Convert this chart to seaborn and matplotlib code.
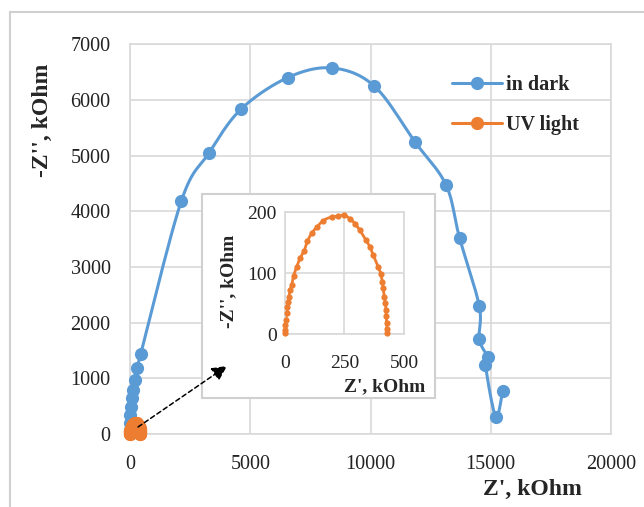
import matplotlib
matplotlib.use("Agg")
import matplotlib.pyplot as plt
import numpy as np
import pandas as pd
import seaborn as sns
from matplotlib.lines import Line2D
from matplotlib.patches import ConnectionPatch, Rectangle

sns.set_style("whitegrid")
plt.rcParams["font.family"] = ["Liberation Serif", "DejaVu Serif"]

BLUE = "#5B9BD5"
ORANGE = "#ED7D31"
GRID = "#D9D9D9"

# in dark, Z' and -Z'' in kOhm
dark_re = [0, 0, 17, 34, 68, 120, 188, 307, 444, 2133, 3276, 4608, 6553,
           8396, 10154, 11860, 13140, 13703, 14522, 14522, 14880, 14778,
           15205, 15495]
dark_im = [72, 190, 340, 490, 640, 790, 970, 1186, 1437, 4186, 5042, 5832,
           6401, 6575, 6251, 5240, 4473, 3521, 2299, 1700, 1377, 1240, 311,
           778]

# UV light
uv_re = [0, 0, 1, 4, 7, 10, 13, 17, 21, 28, 36, 49, 63, 80, 94, 112, 133,
         161, 196, 224, 248, 273, 294, 315, 340, 357, 371, 392, 402, 409,
         413, 417, 422, 424, 426, 427, 429, 429]
uv_im = [2, 7, 15, 23, 34, 45, 53, 61, 72, 80, 95, 110, 124, 136, 152, 165,
         175, 186, 192, 193, 195, 189, 181, 170, 154, 143, 129, 110, 99, 86,
         75, 61, 51, 40, 29, 18, 8, 2]

dark = pd.DataFrame({"re": dark_re, "im": dark_im})
uv = pd.DataFrame({"re": uv_re, "im": uv_im})


def smooth_line(x, y, n=12):
    # excel style smoothed line (catmull-rom through the points)
    p = np.column_stack([x, y]).astype(float)
    p = np.vstack([p[0], p, p[-1]])
    t = np.linspace(0, 1, n, endpoint=False)[:, None]
    out = []
    for i in range(1, len(p) - 2):
        p0, p1, p2, p3 = p[i - 1], p[i], p[i + 1], p[i + 2]
        out.append(0.5 * ((2 * p1) + (-p0 + p2) * t
                          + (2 * p0 - 5 * p1 + 4 * p2 - p3) * t ** 2
                          + (-p0 + 3 * p1 - 3 * p2 + p3) * t ** 3))
    out.append(p[-2][None, :])
    out = np.vstack(out)
    return out[:, 0], out[:, 1]


def draw_series(ax, df, color, lw, ms):
    sx, sy = smooth_line(df["re"], df["im"])
    ax.plot(sx, sy, color=color, linewidth=lw, zorder=2)
    sns.scatterplot(data=df, x="re", y="im", ax=ax, color=color, s=ms ** 2,
                    linewidth=0, zorder=3, clip_on=False)


fig = plt.figure(figsize=(6.44, 5.07), dpi=100)
fig.patches.append(Rectangle((10 / 644, -0.1), 1.2, 1 - 12 / 507 + 0.1,
                             transform=fig.transFigure, fill=False,
                             edgecolor="#D0D0D0", linewidth=1.5))

ax = fig.add_axes([0.2019, 0.144, 0.7469, 0.7686])
draw_series(ax, dark, BLUE, 2.2, 9.5)
draw_series(ax, uv, ORANGE, 2.2, 9.5)
ax.set_xlim(0, 20000)
ax.set_ylim(0, 7000)
ax.set_xticks(range(0, 20001, 5000))
ax.set_yticks(range(0, 7001, 1000))
ax.grid(True, color=GRID, linewidth=1.2)
for s in ax.spines.values():
    s.set_color(GRID)
    s.set_linewidth(1.2)
ax.tick_params(labelsize=14.5, colors="#222222", length=0)
ax.tick_params(axis="x", pad=15)
ax.tick_params(axis="y", pad=14)
ax.set_xlabel("Z', kOhm", fontsize=17, fontweight="bold")
ax.set_ylabel("-Z'', kOhm", fontsize=17, fontweight="bold")
ax.xaxis.set_label_coords(0.836, -0.116)
ax.yaxis.set_label_coords(-0.16, 0.806)

handles = [Line2D([], [], color=BLUE, lw=2.2, marker="o", markersize=9.5,
                  markeredgewidth=0),
           Line2D([], [], color=ORANGE, lw=2.2, marker="o", markersize=9.5,
                  markeredgewidth=0)]
ax.legend(handles, ["in dark", "UV light"], loc="upper left",
          bbox_to_anchor=(452 / 644, 1 - 75 / 507),
          bbox_transform=fig.transFigure, frameon=False,
          prop={"size": 14.5, "weight": "bold"}, handlelength=2.5,
          handletextpad=0.2, labelspacing=1.0, borderpad=0,
          borderaxespad=0)

# inset box
fig.patches.append(Rectangle((202 / 644, 1 - 398 / 507), 233 / 644,
                             204 / 507, transform=fig.transFigure,
                             facecolor="white", edgecolor="#D0D0D0",
                             linewidth=1.5, zorder=3))

ins = fig.add_axes([0.4425, 0.3412, 0.1848, 0.2406], zorder=5)
draw_series(ins, uv, ORANGE, 2, 4.5)
ins.set_xlim(0, 500)
ins.set_ylim(0, 200)
ins.set_xticks([0, 250, 500])
ins.set_yticks([0, 100, 200])
ins.grid(True, color=GRID, linewidth=1.2)
for s in ins.spines.values():
    s.set_color(GRID)
    s.set_linewidth(1.2)
ins.tick_params(labelsize=14, colors="#222222", length=0)
ins.tick_params(axis="x", pad=15)
ins.tick_params(axis="y", pad=6)
ins.set_xlabel("Z', kOhm", fontsize=14, fontweight="bold")
ins.set_ylabel("-Z'', kOhm", fontsize=14, fontweight="bold")
ins.xaxis.set_label_coords(0.84, -0.36)
ins.yaxis.set_label_coords(-0.40, 0.434)

arrow = ConnectionPatch(xyA=(333, 126), coordsA=ax.transData,
                        xyB=(227 / 644, 1 - 366 / 507),
                        coordsB=fig.transFigure,
                        arrowstyle="-|>,head_length=0.9,head_width=0.45",
                        linestyle=(0, (3, 2)), color="black", lw=1.1,
                        shrinkA=0, shrinkB=0, zorder=10)
fig.add_artist(arrow)

fig.savefig("out.png", dpi=100)
